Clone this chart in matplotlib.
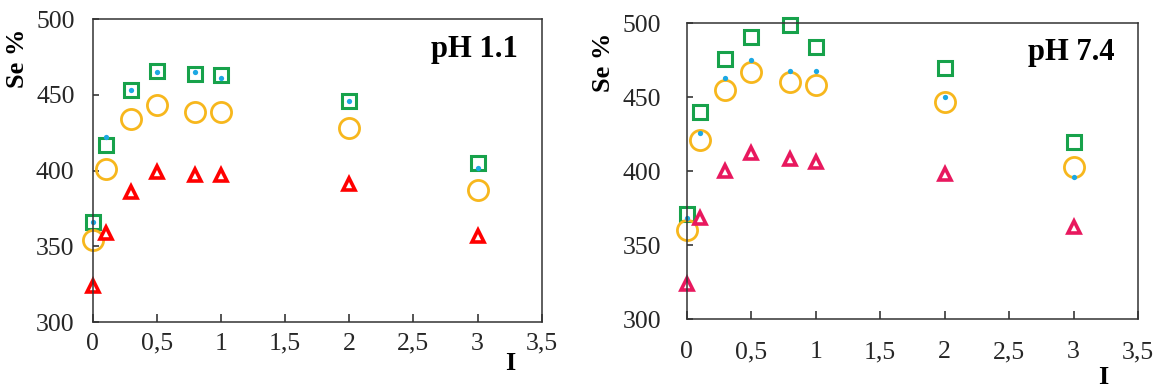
import numpy as np
import matplotlib.pyplot as plt
from matplotlib.ticker import FuncFormatter, MultipleLocator

plt.rcParams['font.family'] = ['Liberation Serif', 'DejaVu Serif']

I = [0, 0.1, 0.3, 0.5, 0.8, 1, 2, 3]

# pH 1.1
sq_1 = [366, 417, 453, 466, 464, 463, 446, 405]
dot_1 = [366, 422, 453, 465, 465, 461, 446, 402]
circ_1 = [354, 401, 434, 443, 439, 439, 428, 387]
tri_1 = [324, 359, 386, 399, 397, 397, 391, 357]

# pH 7.4
sq_7 = [371, 440, 476, 491, 499, 484, 470, 420]
dot_7 = [368, 426, 463, 475, 468, 468, 450, 396]
circ_7 = [360, 421, 455, 467, 460, 458, 447, 403]
tri_7 = [324, 368, 400, 412, 408, 406, 398, 362]

green = '#17A24B'
orange = '#F7B71D'
blue = '#1CA8E3'

comma = FuncFormatter(lambda v, p: '{:g}'.format(v).replace('.', ','))

fig = plt.figure(figsize=(11.57, 3.91), dpi=100)
ax1 = fig.add_axes([0.0801, 0.1757, 0.3881, 0.7757])
ax2 = fig.add_axes([0.5935, 0.1841, 0.3901, 0.7563])


def panel(ax, sq, dot, circ, tri, tri_col, label, xpad, ypad):
    ax.plot(I, sq, 's', ms=9.5, mfc='none', mec=green, mew=2.2, clip_on=False)
    ax.plot(I, circ, 'o', ms=14.5, mfc='none', mec=orange, mew=2.0, clip_on=False)
    ax.plot(I, tri, '^', ms=8.5, mfc='white', mec=tri_col, mew=2.6, clip_on=False)
    ax.plot(I, dot, 'o', ms=3.8, color=blue, mew=0, clip_on=False)
    ax.set_xlim(0, 3.5)
    ax.set_ylim(300, 500)
    ax.xaxis.set_major_locator(MultipleLocator(0.5))
    ax.yaxis.set_major_locator(MultipleLocator(50))
    ax.xaxis.set_major_formatter(comma)
    ax.tick_params(axis='x', direction='in', length=6, width=1.1, pad=xpad,
                   labelsize=18.5, colors='#262626')
    ax.tick_params(axis='y', direction='in', length=4, width=1.1, pad=ypad,
                   labelsize=18.5, colors='#262626')
    for s in ax.spines.values():
        s.set_color('#333333')
        s.set_linewidth(1.1)
    ax.text(0.948, 0.9, label, transform=ax.transAxes, ha='right', va='center',
            fontsize=22, fontweight='bold')


panel(ax1, sq_1, dot_1, circ_1, tri_1, '#FF0000', 'pH 1.1', 7.5, 13)
panel(ax2, sq_7, dot_7, circ_7, tri_7, '#E8185E', 'pH 7.4', 16, 18.5)

fig.text(17 / 1157, 1 - 58 / 391, 'Se %', rotation=90, ha='center', va='center',
         fontsize=19, fontweight='bold')
fig.text(603 / 1157, 1 - 62 / 391, 'Se %', rotation=90, ha='center', va='center',
         fontsize=19, fontweight='bold')
fig.text(510 / 1157, 1 - 363 / 391, 'I', ha='center', va='center',
         fontsize=19, fontweight='bold')
fig.text(1103 / 1157, 1 - 378 / 391, 'I', ha='center', va='center',
         fontsize=19, fontweight='bold')

fig.savefig('out.png', dpi=100)
